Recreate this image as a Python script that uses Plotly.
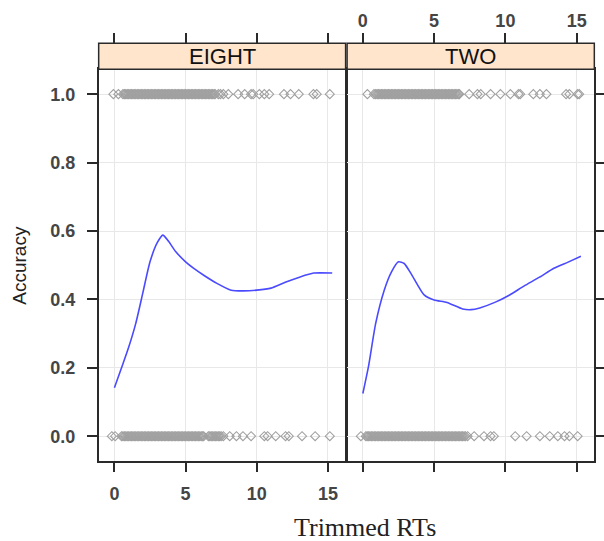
import plotly.graph_objects as go

# ---------------- data ----------------
panels = ["EIGHT", "TWO"]

# smoothed accuracy curves (x = trimmed RT, y = accuracy)
eight_curve_x = [0.0, 0.5, 1.0, 1.5, 2.0, 2.5, 3.0, 3.4, 3.8, 4.3, 5.0, 5.6, 6.3, 7.2, 8.2, 9.0, 10.0, 11.0, 12.0, 13.0, 14.0, 15.3]
eight_curve_y = [0.142, 0.20, 0.26, 0.33, 0.42, 0.51, 0.565, 0.588, 0.57, 0.54, 0.51, 0.49, 0.47, 0.447, 0.427, 0.425, 0.427, 0.433, 0.45, 0.465, 0.477, 0.477]

two_curve_x = [0.0, 0.4, 0.9, 1.5, 2.0, 2.5, 2.9, 3.4, 4.3, 5.0, 5.9, 7.0, 7.6, 8.2, 9.3, 10.3, 11.3, 12.4, 13.4, 14.4, 15.3]
two_curve_y = [0.125, 0.205, 0.33, 0.427, 0.48, 0.51, 0.505, 0.474, 0.413, 0.398, 0.391, 0.372, 0.37, 0.375, 0.392, 0.413, 0.439, 0.465, 0.491, 0.509, 0.526]

# raw trials: RT values for correct (1) and incorrect (0) responses
eight_correct_rt = [-0.07, 0.28,
    0.6, 0.7, 0.8, 0.9, 1.0, 1.1, 1.2, 1.3, 1.4, 1.5, 1.6, 1.7, 1.8, 1.9, 2.0, 2.1, 2.2, 2.3, 2.4, 2.5,
    2.6, 2.7, 2.8, 2.9, 3.0, 3.1, 3.2, 3.3, 3.4, 3.5, 3.6, 3.7, 3.8, 3.9, 4.0, 4.1, 4.2, 4.3, 4.4, 4.5,
    4.6, 4.7, 4.8, 4.9, 5.0, 5.1, 5.2, 5.3, 5.4, 5.5, 5.6, 5.7, 5.8, 5.9, 6.0, 6.1, 6.2, 6.3, 6.4, 6.5,
    6.6, 6.7, 6.8, 6.9, 7.0, 7.07,
    7.3, 7.45, 7.65, 8.0, 8.69, 9.15, 9.6, 9.75, 10.18, 10.53, 10.87, 11.91, 12.37, 12.95, 13.98, 14.21, 15.13]
eight_error_rt = [-0.18, 0.05, 0.5,
    0.6, 0.7, 0.8, 0.9, 1.0, 1.1, 1.2, 1.3, 1.4, 1.5, 1.6, 1.7, 1.8, 1.9, 2.0, 2.1, 2.2, 2.3, 2.4, 2.5,
    2.6, 2.7, 2.8, 2.9, 3.0, 3.1, 3.2, 3.3, 3.4, 3.5, 3.6, 3.7, 3.8, 3.9, 4.0, 4.1, 4.2, 4.3, 4.4, 4.5,
    4.6, 4.7, 4.8, 4.9, 5.0, 5.1, 5.2, 5.3, 5.4, 5.5, 5.6, 5.7, 5.8, 5.9, 6.0, 6.1, 6.2, 6.27,
    6.6, 6.7, 6.8, 6.9, 7.0, 7.1, 7.2, 7.3, 7.4, 7.5, 7.65,
    8.1, 8.57, 9.03, 9.6, 10.53, 10.76, 11.33, 12.02, 12.25, 13.18, 14.1, 15.13]
two_correct_rt = [0.32,
    0.78, 0.9, 1.0, 1.1, 1.2, 1.3, 1.4, 1.5, 1.6, 1.7, 1.8, 1.9, 2.0, 2.1, 2.2, 2.3, 2.4, 2.5,
    2.6, 2.7, 2.8, 2.9, 3.0, 3.1, 3.2, 3.3, 3.4, 3.5, 3.6, 3.7, 3.8, 3.9, 4.0, 4.1, 4.2, 4.3, 4.4, 4.5,
    4.6, 4.7, 4.8, 4.9, 5.0, 5.1, 5.2, 5.3, 5.4, 5.5, 5.6, 5.7, 5.8, 5.9, 6.0, 6.1, 6.2, 6.3, 6.4, 6.5,
    6.6, 6.7, 6.77,
    7.46, 8.04, 8.27, 8.96, 9.65, 10.35, 10.92, 11.04, 11.96, 12.42, 12.88, 14.26, 14.49, 15.07, 15.18]
two_error_rt = [-0.14,
    0.21, 0.3, 0.4, 0.5, 0.6, 0.7, 0.8, 0.9, 1.0, 1.1, 1.2, 1.3, 1.4, 1.5, 1.6, 1.7, 1.8, 1.9, 2.0,
    2.1, 2.2, 2.3, 2.4, 2.5, 2.6, 2.7, 2.8, 2.9, 3.0, 3.1, 3.2, 3.3, 3.4, 3.5, 3.6, 3.7, 3.8, 3.9, 4.0,
    4.1, 4.2, 4.3, 4.4, 4.5, 4.6, 4.7, 4.8, 4.9, 5.0, 5.1, 5.2, 5.3, 5.4, 5.5, 5.6, 5.7, 5.8, 5.9, 6.0,
    6.1, 6.2, 6.3, 6.4, 6.5, 6.6, 6.7, 6.8, 6.9, 7.0, 7.1, 7.2, 7.35,
    7.81, 8.5, 8.96, 9.19, 10.69, 11.49, 12.42, 13.11, 13.68, 14.15, 14.49, 15.07]

x_ticks = [0, 5, 10, 15]
x_tick_labels = ["0", "5", "10", "15"]
y_ticks = [0.0, 0.2, 0.4, 0.6, 0.8, 1.0]
y_tick_labels = ["0.0", "0.2", "0.4", "0.6", "0.8", "1.0"]

# ---------------- layout geometry ----------------
W, H = 604, 541
px = lambda v: v / W
py = lambda v: 1 - v / H
X1 = [px(100), px(350.25)]
X2 = [px(351.75), px(602.3)]
YD = [py(460.7), py(69.3)]
STRIP_TOP = py(43.3)

XR = [-1.106, 16.24]
YR = [-0.0716, 1.0728]

PT_COLOR = "#a0a0a0"
LINE_COLOR = "#4a4aff"
BORDER = "#2a2a2a"
GRID = "#e8e8e8"
TICKFONT = dict(family="Liberation Sans, Arial", size=18, color="#454545", weight="bold")

fig = go.Figure()

def add_panel(xa, ya, correct, error, cx, cy):
    fig.add_trace(go.Scatter(x=correct, y=[1] * len(correct), mode="markers",
                             marker=dict(symbol="diamond-open", size=7, color=PT_COLOR, line=dict(width=1.1, color=PT_COLOR)),
                             xaxis=xa, yaxis=ya, showlegend=False, hoverinfo="skip"))
    fig.add_trace(go.Scatter(x=error, y=[0] * len(error), mode="markers",
                             marker=dict(symbol="diamond-open", size=7, color=PT_COLOR, line=dict(width=1.1, color=PT_COLOR)),
                             xaxis=xa, yaxis=ya, showlegend=False, hoverinfo="skip"))
    fig.add_trace(go.Scatter(x=cx, y=cy, mode="lines", line=dict(color=LINE_COLOR, width=1.6, shape="spline", smoothing=0.6),
                             xaxis=xa, yaxis=ya, showlegend=False, hoverinfo="skip"))

add_panel("x", "y", eight_correct_rt, eight_error_rt, eight_curve_x, eight_curve_y)
add_panel("x2", "y2", two_correct_rt, two_error_rt, two_curve_x, two_curve_y)
# dummy traces so the top tick axes get drawn
fig.add_trace(go.Scatter(x=[None], y=[None], xaxis="x3", yaxis="y", showlegend=False))
fig.add_trace(go.Scatter(x=[None], y=[None], xaxis="x4", yaxis="y2", showlegend=False))

common_x = dict(range=XR, tickvals=x_ticks, ticktext=x_tick_labels, ticks="outside", ticklen=10, tickwidth=1.5,
                tickcolor=BORDER, showline=True, mirror=True, linecolor=BORDER, linewidth=1.5,
                showgrid=True, gridcolor=GRID, gridwidth=1, zeroline=False, tickfont=TICKFONT,
                ticklabelstandoff=6, fixedrange=True)
fig.update_layout(
    width=W, height=H, margin=dict(l=0, r=0, t=0, b=0),
    paper_bgcolor="white", plot_bgcolor="white",
    xaxis=dict(domain=X1, anchor="y", **common_x),
    xaxis2=dict(domain=X2, anchor="y2", showticklabels=False, **common_x),
    xaxis3=dict(domain=X1, overlaying="x", side="top", anchor="free", position=STRIP_TOP, range=XR,
                tickvals=x_ticks, ticks="outside", ticklen=10, tickwidth=1.5, tickcolor=BORDER,
                showticklabels=False, showline=False, showgrid=False, zeroline=False),
    xaxis4=dict(domain=X2, overlaying="x2", side="top", anchor="free", position=STRIP_TOP, range=XR,
                tickvals=x_ticks, ticktext=x_tick_labels, ticks="outside", ticklen=10, tickwidth=1.5, tickcolor=BORDER,
                showticklabels=True, tickfont=TICKFONT, ticklabelstandoff=-1,
                showline=False, showgrid=False, zeroline=False),
    yaxis=dict(domain=YD, anchor="x", range=YR, tickvals=y_ticks, ticktext=y_tick_labels, ticks="outside",
               ticklen=10, tickwidth=1.5, tickcolor=BORDER, showline=True, mirror=True, linecolor=BORDER,
               linewidth=1.5, showgrid=True, gridcolor=GRID, zeroline=False, tickfont=TICKFONT,
               ticklabelstandoff=8),
    yaxis2=dict(domain=YD, anchor="x2", side="right", range=YR, tickvals=y_ticks, ticks="outside",
                ticklen=10, tickwidth=1.5, tickcolor=BORDER, showticklabels=False, showline=True, mirror=True,
                linecolor=BORDER, linewidth=1.5, showgrid=True, gridcolor=GRID, zeroline=False),
)

# strips
for dom, label in zip([X1, X2], panels):
    fig.add_shape(type="rect", xref="paper", yref="paper", x0=dom[0], x1=dom[1], y0=YD[1], y1=STRIP_TOP,
                  fillcolor="#ffe5cc", line=dict(color=BORDER, width=1.5), layer="above")
    fig.add_annotation(xref="paper", yref="paper", x=(dom[0] + dom[1]) / 2, y=(YD[1] + STRIP_TOP) / 2,
                       text=label, showarrow=False, xanchor="center", yanchor="middle",
                       font=dict(family="Liberation Sans, Arial", size=22, color="#111111"))

fig.add_annotation(xref="paper", yref="paper", x=px(19), y=py(265), text="Accuracy", textangle=-90,
                   showarrow=False, xanchor="center", yanchor="middle",
                   font=dict(family="Liberation Sans, Arial", size=19, color="#222222"))
fig.add_annotation(xref="paper", yref="paper", x=px(370), y=py(527), text="Trimmed RTs",
                   showarrow=False, xanchor="center", yanchor="middle",
                   font=dict(family="Liberation Serif, serif", size=26, color="#222222"))

fig.write_html("out.html", config={"displayModeBar": False},
               post_script="document.body.style.margin='0';document.body.style.overflow='hidden';")
